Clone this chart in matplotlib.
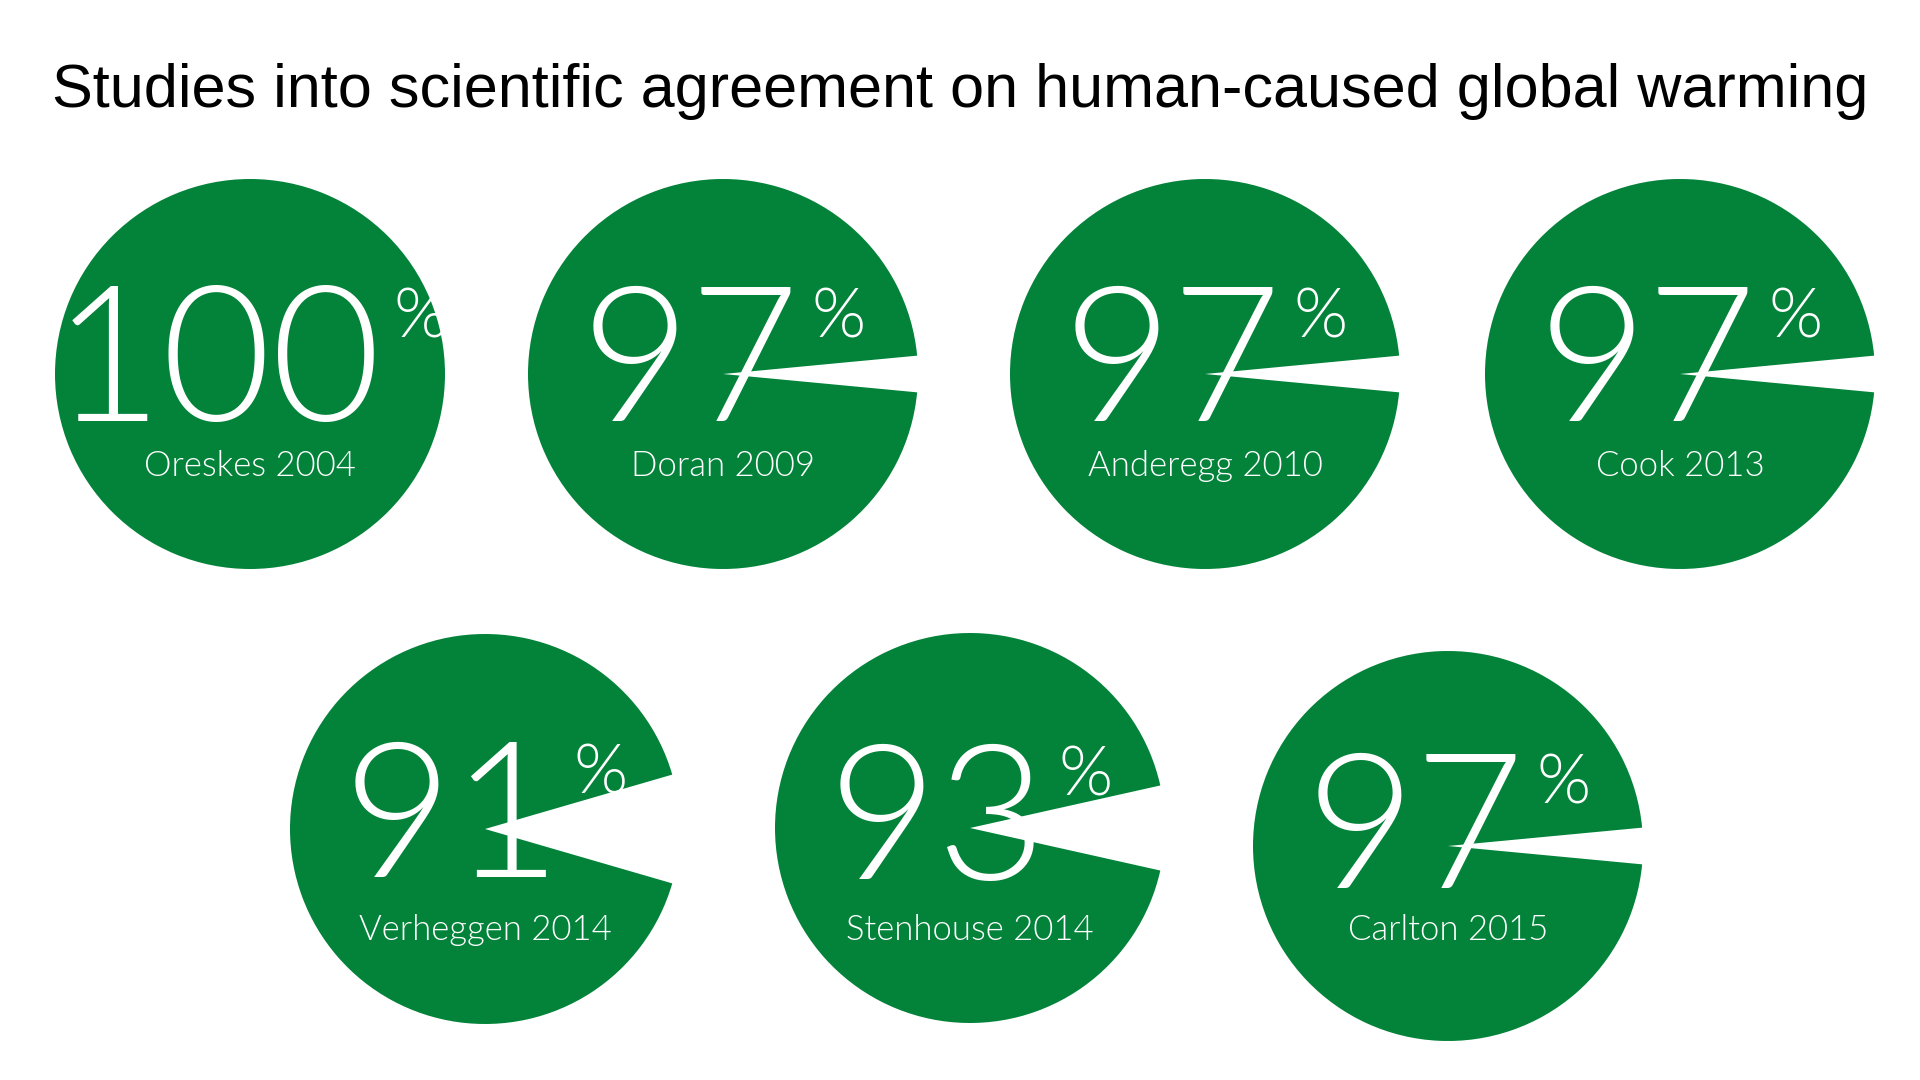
import matplotlib
matplotlib.use("Agg")
from matplotlib import pyplot as plt

# study data
studies = ["Oreskes 2004", "Doran 2009", "Anderegg 2010", "Cook 2013",
           "Verheggen 2014", "Stenhouse 2014", "Carlton 2015"]
consensus = [100, 97, 97, 97, 91, 93, 97]

title = "Studies into scientific agreement on human-caused global warming"

# layout (pixels on a 1920x1080 canvas)
centers = [(250, 374), (723, 374), (1205, 374), (1680, 374),
           (485, 829), (970, 828), (1448, 846)]
num_base = [421, 421, 421, 421, 877, 879, 888]
label_base = [476, 476, 476, 476, 940, 940, 940]
radius = 195
green = "#03833a"

NUM_FS = 136
PCT_FS = 50
LABEL_FS = 25
FONT = "Lato"

fig = plt.figure(figsize=(19.2, 10.8), dpi=100)
ax = fig.add_axes([0, 0, 1, 1])

pairs = []
for i, (name, pct) in enumerate(zip(studies, consensus)):
    cx, cy = centers[i]
    vals = [pct, 100 - pct] if pct < 100 else [pct]
    cols = [green, "none"] if pct < 100 else [green]
    # gap wedge is centred on the right-hand horizontal
    ax.pie(vals, colors=cols, startangle=(100 - pct) * 1.8, center=(cx, cy),
           radius=radius, wedgeprops=dict(linewidth=0))

    num = ax.text(cx, num_base[i], str(pct), color="white", fontsize=NUM_FS,
                  family=FONT, weight=300, ha="left", va="baseline")
    sign = ax.text(cx, num_base[i] - 84, "%", color="white", fontsize=PCT_FS,
                   family=FONT, weight=300, ha="left", va="baseline")
    ax.text(cx, label_base[i], name, color="white", fontsize=LABEL_FS,
            family=FONT, weight=300, ha="center", va="baseline")
    pairs.append((num, sign, cx))

ax.text(960, 107, title, fontsize=44, family="Liberation Sans",
        ha="center", va="baseline", color="black")

ax.set_xlim(0, 1920)
ax.set_ylim(1080, 0)
ax.axis("off")

# centre the number + percent sign together inside each circle
fig.canvas.draw()
renderer = fig.canvas.get_renderer()
gap = 12
for num, sign, cx in pairs:
    w_num = num.get_window_extent(renderer).width
    w_pct = sign.get_window_extent(renderer).width
    start = cx - (w_num + gap + w_pct) / 2
    num.set_x(start)
    sign.set_x(start + w_num + gap)

fig.savefig("out.png", dpi=100, facecolor="white")
